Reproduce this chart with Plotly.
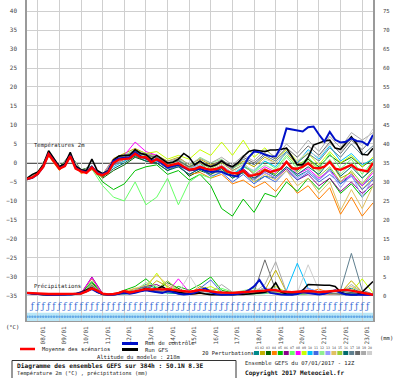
import plotly.graph_objects as go

# ---------------- DATA ----------------
hours6 = list(range(0, 385, 6))      # 07/01 12Z + 0..384h, 6-hourly
hours12 = list(range(0, 385, 12))    # 12-hourly
date_hours = [12 + 24 * k for k in range(16)]
date_labels = ["08/01", "09/01", "10/01", "11/01", "12/01", "13/01", "14/01", "15/01",
               "16/01", "17/01", "18/01", "19/01", "20/01", "21/01", "22/01", "23/01"]
temp_ticks = [-35, -30, -25, -20, -15, -10, -5, 0, 5, 10, 15, 20, 25, 30, 35, 40]
mm_ticks = [0, 5, 10, 15, 20, 25, 30, 35, 40, 45, 50, 55, 60, 65, 70, 75]

# Mean of scenarios (6h)
mean_temp = [-4.2, -3.8, -2.8, -1.0, 2.3, 0.5, -1.5, -0.8, 1.8, -1.5, -2.2, -2.6, -1.2, -2.8, -3.2, -2.5,
             0.0, 0.9, 1.0, 1.2, 2.4, 1.5, 1.5, 0.2, 1.0, 0.3, -0.8, -0.5, -0.1, -1.0, -1.8, -1.6,
             -1.0, -1.5, -1.8, -1.6, -1.0, -2.2, -2.7, -2.7, -2.0, -3.4, -3.2, -2.8, -1.8, -2.4, -2.0, -1.5,
             0.3, -1.4, -1.5, -1.0, -0.1, -1.3, -1.4, -1.0, 0.3, -1.5, -1.8, -1.2, -0.5, -1.6, -1.9, -2.2, 0.0]
mean_precip = [0.8, 0.7, 0.6, 0.6, 0.5, 0.5, 0.5, 0.5, 0.5, 0.5, 0.6, 1.2, 2.0, 1.4, 0.6, 0.4,
               0.5, 0.8, 1.3, 0.9, 1.2, 1.6, 1.8, 1.7, 1.8, 1.7, 1.8, 1.6, 1.4, 1.2, 1.1, 1.3,
               1.6, 1.4, 1.1, 1.0, 0.9, 0.8, 0.8, 0.9, 1.0, 1.1, 1.1, 1.3, 1.4, 1.6, 1.5, 1.2,
               1.1, 1.0, 1.1, 1.2, 1.3, 1.2, 1.0, 1.1, 1.2, 1.3, 1.4, 1.6, 1.4, 1.1, 0.9, 0.6, 0.3]

# Control run (6h)
ctrl_temp = [-4.3, -3.9, -2.9, -1.0, 2.5, 0.6, -1.4, -0.7, 1.9, -1.3, -2.1, -2.4, -1.0, -2.6, -3.0, -2.2,
             0.5, 1.2, 1.3, 1.5, 2.8, 1.8, 1.2, 0.5, 1.0, 0.0, -1.2, -0.8, -0.5, -1.2, -2.0, -1.8,
             -1.5, -2.0, -2.4, -2.2, -2.3, -3.0, -3.4, -3.6, -1.0, 1.5, 3.0, 2.8, 2.2, 1.8, 1.7, 4.3,
             9.1, 8.8, 8.4, 8.3, 9.4, 9.6, 7.5, 5.6, 8.2, 6.1, 5.4, 5.6, 6.5, 5.8, 5.6, 4.7, 7.4]
ctrl_precip = [0.7, 0.6, 0.4, 0.3, 0.3, 0.3, 0.3, 0.3, 0.4, 0.5, 0.8, 1.2, 1.8, 1.0, 0.5, 0.3,
               0.3, 0.5, 0.8, 0.6, 0.8, 1.2, 1.5, 1.2, 1.0, 0.8, 1.2, 1.0, 0.6, 0.4, 0.5, 0.8,
               1.5, 2.0, 1.0, 0.5, 0.3, 0.3, 0.4, 0.5, 0.8, 1.5, 2.5, 4.2, 2.0, 0.8, 0.5, 0.4,
               0.3, 0.3, 0.5, 1.0, 0.8, 0.5, 0.4, 0.6, 1.0, 1.5, 0.8, 0.4, 0.3, 0.3, 0.2, 0.2, 0.3]

# GFS run (6h)
gfs_temp = [-4.0, -3.0, -2.4, -0.5, 3.2, 1.0, -1.0, -0.2, 2.8, -0.8, -1.8, -2.0, 1.0, -2.0, -2.8, -2.0,
            0.8, 1.8, 2.0, 2.0, 3.5, 2.5, 2.2, 1.0, 2.0, 1.0, 0.0, 0.2, 1.0, 2.5, 1.5, -0.5,
            0.5, -0.5, -1.0, -0.5, 0.5, -0.5, -1.0, 0.0, 1.7, 3.0, 3.4, 3.2, 3.0, 3.4, 3.4, 3.6,
            3.9, 1.7, -0.5, -0.5, 1.5, 4.7, 5.2, 5.8, 6.0, 3.9, 3.6, 5.2, 6.9, 5.0, 2.3, 2.1, 3.9]
gfs_precip = [0.8, 0.6, 0.4, 0.3, 0.3, 0.3, 0.3, 0.4, 0.5, 0.6, 1.0, 1.5, 2.2, 1.0, 0.4, 0.3,
              0.4, 0.6, 1.0, 0.8, 1.0, 1.5, 2.0, 1.5, 1.8, 2.5, 1.5, 1.2, 1.0, 0.8, 0.5, 0.6,
              0.8, 0.5, 0.3, 0.3, 0.3, 0.4, 0.3, 0.3, 0.4, 0.5, 0.6, 0.8, 1.0, 1.5, 3.5, 1.0,
              0.5, 0.4, 0.5, 1.5, 3.0, 2.9, 2.8, 2.8, 2.8, 2.5, 1.0, 0.5, 0.3, 0.3, 1.0, 2.5, 3.8]

# 20 perturbations (12h)
pert_temp = [
    [-4.3, -2.5, 2.0, -1.2, 2.2, -2.0, -0.8, -3.5, 0.5, 1.8, 3.0, 2.0, 1.5, -0.5, 0.8, -1.0, 0.0, -2.5, -1.5, -4.0, -2.5, -5.0, -3.5, -4.0, -1.0, -3.5, -2.0, -4.5, -1.5, -5.5, -3.0, -6.0, -3.5],
    [-4.0, -3.0, 2.6, -1.8, 1.5, -2.5, -1.5, -3.0, 1.2, 2.5, 3.8, 2.5, 2.0, 0.5, 1.5, -0.5, 1.0, -0.5, 0.5, -1.5, 0.5, -1.0, 1.5, 0.0, 2.5, -0.5, 1.0, -2.0, 0.5, -4.0, -2.5, -7.0, -4.0],
    [-4.1, -2.7, 2.2, -1.0, 2.0, -1.8, -1.0, -4.0, -2.0, -0.5, 1.5, 0.5, 0.0, -2.0, -0.5, -3.5, -2.0, -3.0, -1.0, -3.5, -2.5, -4.5, -2.0, -3.0, 0.0, -2.0, 1.0, -1.0, 2.0, 0.0, 1.5, -1.0, 1.0],
    [-4.5, -3.2, 1.8, -2.0, 1.2, -2.8, -1.8, -3.8, -0.5, 0.5, 2.0, 1.0, 0.5, -1.5, -1.0, -3.0, -2.5, -4.0, -3.0, -5.5, -4.5, -6.5, -5.0, -7.5, -4.0, -8.0, -6.0, -9.5, -6.5, -13.5, -9.0, -14.0, -10.5],
    [-4.2, -2.6, 2.4, -1.3, 1.9, -2.0, -1.0, -5.0, -7.0, -5.5, -2.0, -1.0, -0.5, -3.0, -2.0, -4.5, -3.0, -6.0, -12.0, -14.0, -9.5, -13.0, -8.0, -9.0, -5.0, -7.5, -4.0, -7.0, -4.0, -8.0, -5.5, -9.0, -6.0],
    [-4.0, -2.9, 2.5, -1.6, 1.7, -2.4, -1.4, -3.3, 0.0, 1.0, 2.8, 1.5, 1.2, -0.8, 0.0, -2.0, -1.0, -2.0, -0.5, -3.0, -1.5, -4.0, -2.5, -4.0, -1.5, -4.5, -3.0, -6.0, -4.0, -7.5, -5.0, -8.0, -5.5],
    [-4.4, -2.8, 2.0, -1.6, 1.6, -2.2, -1.6, -6.0, -9.0, -10.0, -5.0, -11.0, -9.0, -4.0, -11.0, -5.0, -3.0, -4.0, -2.0, -3.0, -1.0, -2.5, 0.5, -1.5, 2.0, -1.0, 1.5, -1.5, 2.5, -1.5, 1.0, -3.0, 0.5],
    [-4.1, -2.8, 2.3, -1.4, 1.9, -2.1, -1.1, -3.0, 1.0, 2.0, 5.5, 3.0, 2.0, 0.0, 1.0, -1.5, 0.0, -1.0, 0.5, -2.0, -0.5, -3.0, -1.0, -2.5, 0.5, -3.0, -1.5, -4.0, -2.0, -5.0, -3.0, -6.0, -2.5],
    [-4.2, -2.7, 2.2, -1.5, 1.8, -2.3, -1.2, -3.2, 0.3, 1.5, 3.5, 2.5, 3.0, 1.0, 2.0, 1.0, 3.5, 2.0, 5.5, 2.0, 6.0, 1.5, 4.0, 1.0, 3.5, 0.5, 2.5, -0.5, 3.0, 0.0, 2.0, -1.0, 1.5],
    [-4.3, -2.9, 2.1, -1.7, 1.6, -2.2, -1.3, -3.4, -1.0, 0.5, 2.0, 1.0, 0.5, -1.0, 0.0, -1.5, -0.5, -2.5, -1.0, -3.0, -1.0, -2.0, 0.5, -1.0, 3.0, 0.0, 3.5, 1.0, 4.5, 0.5, 2.5, -0.5, 1.0],
    [-4.2, -2.8, 2.4, -1.5, 1.8, -2.2, -1.1, -3.5, -0.5, 1.0, 2.5, 1.5, 0.5, -1.5, -1.0, -3.0, -1.5, -3.5, -2.5, -5.0, -3.0, -5.5, -3.5, -5.0, -2.0, -4.5, -2.5, -5.0, -3.0, -5.5, -3.5, -7.0, -4.5],
    [-4.1, -2.6, 2.5, -1.3, 2.0, -2.0, -1.0, -3.1, 0.8, 2.0, 3.5, 2.0, 1.5, 0.0, 1.0, -1.0, 1.5, 0.0, 1.0, -1.5, 0.0, -2.5, -0.5, -2.0, 1.5, -1.5, 0.5, -2.5, 1.0, -3.0, 0.0, -4.0, -1.0],
    [-4.3, -2.9, 2.2, -1.6, 1.7, -2.3, -1.3, -3.3, 0.2, 1.2, 2.6, 1.6, 1.0, -0.8, 0.2, -1.8, -0.8, -2.0, -1.0, -3.0, -2.0, -4.5, -2.5, -4.0, -1.0, -4.0, -2.0, -4.5, -2.0, -6.5, -3.0, -9.0, -4.0],
    [-4.2, -2.8, 2.3, -1.5, 1.8, -2.2, -1.2, -3.2, 0.0, 1.0, 2.4, 1.5, 1.0, -0.8, -0.1, -1.8, -1.0, -3.0, -2.0, -4.0, -2.5, -5.0, -3.0, -4.5, -2.0, -6.0, -4.0, -8.0, -5.0, -12.5, -7.0, -12.0, -6.0],
    [-4.1, -2.7, 2.4, -1.4, 1.9, -2.1, -1.1, -3.3, 0.4, 1.4, 2.8, 1.8, 1.2, -0.5, 0.5, -1.2, 0.0, -1.5, 0.0, -2.0, -0.5, -3.0, -1.5, -3.0, 0.5, -2.5, 0.0, -3.5, -1.0, -5.0, -2.0, -5.5, -2.0],
    [-4.3, -2.8, 2.2, -1.5, 1.8, -2.3, -1.2, -3.6, -1.5, 0.0, 1.8, 0.5, 0.0, -2.0, -1.0, -3.0, -1.5, -3.0, -1.5, -4.0, -2.5, -4.0, -2.0, -3.5, -1.0, -3.0, -1.0, -3.0, 0.5, -3.5, -1.0, -4.0, -1.5],
    [-4.2, -2.7, 2.3, -1.5, 1.8, -2.2, -1.2, -3.2, 0.5, 1.5, 3.0, 2.0, 1.5, 0.0, 0.5, -1.0, 0.5, -1.0, 0.5, -1.5, 1.0, -0.5, 2.0, 0.5, 3.0, 0.0, 2.5, 0.5, 4.0, 1.5, 5.0, 2.0, 4.5],
    [-4.2, -2.8, 2.4, -1.4, 1.9, -2.1, -1.1, -3.1, 0.6, 1.6, 3.2, 2.2, 1.4, -0.2, 0.6, -1.0, 0.4, -0.8, 0.8, -1.0, 1.5, 0.0, 2.5, 1.0, 4.0, 1.5, 4.5, 2.0, 5.5, 2.5, 6.0, 3.5, 6.5],
    [-4.1, -2.7, 2.4, -1.3, 2.0, -2.0, -1.0, -3.0, 0.8, 1.8, 3.4, 2.4, 1.8, 0.4, 1.2, -0.4, 1.2, 0.0, 1.5, -0.5, 2.0, 0.5, 3.5, 1.5, 5.0, 2.5, 6.0, 3.0, 7.0, 4.0, 8.0, 6.0, 8.0],
    [-4.2, -2.8, 2.3, -1.5, 1.8, -2.2, -1.2, -3.2, 0.2, 1.2, 2.6, 1.6, 1.0, -0.6, 0.2, -1.6, -0.6, -2.0, -0.5, -2.5, -0.5, -2.0, 1.0, 0.0, 2.5, 0.5, 3.0, 1.5, 5.0, 3.0, 6.5, 4.5, 9.0],
]
pert_precip = [
    [0.8, 0.5, 0.3, 0.3, 0.4, 0.6, 2.5, 0.5, 0.4, 1.0, 1.5, 3.0, 2.0, 1.5, 1.0, 0.8, 1.5, 1.0, 0.5, 0.4, 0.8, 1.2, 2.0, 1.0, 0.5, 0.8, 1.5, 1.0, 0.5, 1.5, 2.0, 0.8, 0.3],
    [0.7, 0.4, 0.3, 0.3, 0.3, 0.8, 4.5, 0.6, 0.3, 0.8, 2.0, 1.5, 4.0, 2.5, 1.0, 0.6, 2.5, 1.5, 0.8, 0.5, 0.6, 0.8, 1.5, 6.8, 1.0, 0.5, 0.8, 1.2, 0.6, 0.8, 4.0, 1.0, 0.5],
    [0.8, 0.5, 0.4, 0.3, 0.3, 0.5, 3.5, 0.4, 0.3, 0.6, 1.2, 2.5, 1.5, 3.5, 2.0, 0.5, 1.0, 0.8, 0.5, 0.3, 0.5, 0.6, 0.8, 1.0, 0.5, 0.4, 0.6, 0.8, 1.2, 0.6, 0.4, 0.5, 0.3],
    [0.7, 0.4, 0.3, 0.2, 0.3, 0.5, 2.0, 0.3, 0.3, 0.5, 1.0, 2.0, 1.0, 1.5, 0.8, 0.4, 0.6, 0.5, 0.8, 0.5, 0.4, 0.6, 1.0, 0.8, 0.4, 0.6, 1.0, 1.8, 0.8, 0.5, 0.6, 0.4, 0.2],
    [0.8, 0.5, 0.3, 0.3, 0.4, 0.7, 3.8, 0.5, 0.4, 1.5, 2.5, 4.5, 2.0, 1.0, 2.5, 1.5, 3.0, 5.0, 1.5, 0.8, 0.5, 0.6, 1.0, 1.5, 0.6, 0.5, 0.8, 0.6, 0.4, 1.0, 0.8, 0.5, 0.3],
    [0.7, 0.5, 0.3, 0.3, 0.3, 0.6, 5.0, 0.6, 0.4, 0.8, 1.5, 2.5, 3.0, 1.5, 1.0, 0.6, 0.8, 0.6, 0.4, 0.3, 0.5, 0.8, 1.2, 0.6, 0.4, 0.5, 0.6, 0.5, 0.8, 0.4, 0.5, 0.3, 0.2],
    [0.8, 0.6, 0.4, 0.3, 0.4, 0.6, 3.0, 0.5, 0.3, 0.5, 1.0, 1.5, 1.0, 0.8, 0.6, 0.5, 1.0, 1.5, 2.0, 1.0, 0.8, 0.5, 0.6, 1.0, 0.5, 0.4, 0.6, 0.8, 0.5, 1.0, 0.6, 0.4, 0.3],
    [0.7, 0.5, 0.3, 0.3, 0.3, 0.7, 4.8, 0.4, 0.3, 0.6, 1.2, 2.0, 1.5, 1.0, 4.5, 1.0, 0.8, 0.6, 0.5, 0.4, 0.6, 0.8, 1.0, 0.8, 0.5, 0.6, 0.8, 0.5, 0.4, 0.6, 0.5, 0.4, 0.2],
    [0.8, 0.5, 0.4, 0.3, 0.4, 0.6, 2.8, 0.5, 0.4, 0.8, 1.5, 2.0, 6.0, 2.0, 1.0, 0.8, 1.5, 2.5, 1.0, 0.6, 0.5, 0.8, 1.5, 2.5, 1.0, 0.6, 1.0, 0.8, 0.5, 0.6, 1.0, 4.5, 0.8],
    [0.7, 0.5, 0.3, 0.3, 0.3, 0.5, 2.2, 0.4, 0.3, 0.5, 1.0, 1.5, 1.2, 0.8, 0.6, 0.5, 1.2, 0.8, 0.5, 0.6, 1.0, 1.5, 1.0, 0.8, 1.5, 8.6, 2.0, 1.0, 0.6, 0.8, 0.5, 0.4, 0.3],
    [0.8, 0.5, 0.3, 0.3, 0.4, 0.6, 2.6, 0.5, 0.3, 0.7, 1.2, 2.2, 1.5, 1.0, 0.8, 0.6, 2.0, 4.2, 1.0, 0.5, 0.4, 0.6, 0.8, 1.0, 0.6, 0.5, 0.8, 1.0, 0.6, 0.5, 0.4, 0.3, 0.2],
    [0.7, 0.4, 0.3, 0.3, 0.3, 0.6, 3.2, 0.4, 0.3, 0.6, 1.4, 3.5, 2.5, 1.5, 1.2, 0.8, 1.0, 0.8, 0.6, 0.8, 1.5, 2.0, 1.2, 0.8, 0.6, 0.5, 0.6, 0.8, 1.0, 1.5, 1.0, 0.6, 0.3],
    [0.8, 0.5, 0.3, 0.3, 0.4, 0.6, 2.4, 0.5, 0.3, 0.6, 1.0, 1.8, 1.2, 1.0, 0.8, 0.6, 0.8, 0.6, 0.5, 0.5, 0.8, 1.0, 1.4, 1.0, 0.8, 1.2, 2.0, 1.0, 0.6, 1.5, 1.0, 0.5, 0.3],
    [0.7, 0.5, 0.3, 0.3, 0.3, 0.6, 3.0, 0.6, 0.4, 1.2, 2.0, 2.8, 5.5, 3.0, 1.5, 1.0, 1.8, 1.2, 0.8, 0.6, 0.8, 1.5, 1.0, 0.8, 1.0, 0.6, 0.8, 0.6, 0.5, 0.8, 2.5, 1.0, 0.5],
    [0.8, 0.5, 0.4, 0.3, 0.3, 0.5, 2.5, 0.5, 0.3, 0.8, 1.5, 2.0, 1.8, 4.0, 1.5, 1.0, 1.2, 0.8, 0.6, 0.5, 0.6, 0.8, 1.2, 0.8, 0.6, 0.8, 1.0, 0.8, 0.6, 0.5, 0.8, 0.5, 0.3],
    [0.7, 0.5, 0.3, 0.3, 0.3, 0.6, 2.2, 0.4, 0.3, 0.6, 1.0, 1.5, 1.0, 0.8, 0.6, 0.5, 0.8, 0.6, 0.4, 0.4, 0.6, 0.8, 1.0, 1.5, 0.8, 0.6, 1.0, 0.8, 0.6, 1.2, 0.8, 0.5, 0.3],
    [0.8, 0.5, 0.3, 0.3, 0.4, 0.6, 2.8, 0.5, 0.4, 0.8, 1.5, 2.5, 1.5, 1.0, 1.0, 0.8, 1.2, 1.0, 0.8, 0.6, 0.8, 1.2, 2.0, 1.5, 1.0, 0.8, 1.2, 1.0, 0.8, 1.5, 11.2, 1.5, 0.5],
    [0.7, 0.5, 0.3, 0.3, 0.3, 0.6, 2.0, 0.4, 0.3, 0.6, 1.2, 1.8, 1.2, 1.0, 0.8, 0.6, 1.0, 0.8, 0.6, 0.5, 0.8, 1.0, 9.5, 1.5, 0.8, 0.6, 0.8, 1.0, 0.8, 0.6, 0.8, 0.6, 0.3],
    [0.8, 0.5, 0.4, 0.3, 0.4, 0.6, 2.4, 0.5, 0.3, 0.7, 1.2, 2.0, 1.5, 1.2, 1.0, 0.8, 1.5, 1.0, 3.0, 1.0, 0.8, 1.0, 3.0, 9.0, 1.0, 0.8, 1.2, 1.0, 0.8, 1.0, 3.0, 1.0, 0.5],
    [0.7, 0.5, 0.3, 0.3, 0.3, 0.6, 2.0, 0.5, 0.3, 0.6, 1.5, 2.0, 1.8, 1.0, 0.8, 5.5, 1.0, 0.8, 0.6, 0.5, 0.8, 1.2, 2.0, 2.0, 1.0, 0.8, 8.2, 1.5, 1.0, 0.8, 1.2, 0.8, 0.4],
]
pert_colors = ["#008b8b", "#c0b000", "#006400", "#ff7f00", "#00c000", "#8b008b", "#66ff66", "#ff00ff",
               "#c8ff00", "#00bfff", "#4169e1", "#90ee90", "#9999ff", "#e0c060", "#9acd32", "#006b6b",
               "#5f7f8f", "#696969", "#a9a9a9", "#cfcfcf"]
pert_names = ["%02d" % (k + 1) for k in range(20)]

# ---------------- FIGURE ----------------
MONO = "DejaVu Sans Mono"
W, H = 400, 378
L, R, T, B = 27, 27, 0, 57
YMIN, YMAX = -41.6, 42.9
OFF = 35  # mm = degC + 35


def px(xp):
    return (xp - L) / (W - L - R)


def py(yp):
    return (H - B - yp) / (H - B - T)


fig = go.Figure()

for k in range(20):
    fig.add_trace(go.Scatter(x=hours12, y=pert_temp[k], mode="lines",
                             line=dict(color=pert_colors[k], width=1), yaxis="y"))
for k in range(20):
    fig.add_trace(go.Scatter(x=hours12, y=pert_precip[k], mode="lines",
                             line=dict(color=pert_colors[k], width=1), yaxis="y2"))

fig.add_trace(go.Scatter(x=hours6, y=gfs_temp, mode="lines", line=dict(color="#000000", width=1.6), yaxis="y"))
fig.add_trace(go.Scatter(x=hours6, y=ctrl_temp, mode="lines", line=dict(color="#0010c8", width=2), yaxis="y"))
fig.add_trace(go.Scatter(x=hours6, y=mean_temp, mode="lines", line=dict(color="#ff0000", width=2.4), yaxis="y"))
fig.add_trace(go.Scatter(x=hours6, y=gfs_precip, mode="lines", line=dict(color="#000000", width=1.6), yaxis="y2"))
fig.add_trace(go.Scatter(x=hours6, y=ctrl_precip, mode="lines", line=dict(color="#0010c8", width=2), yaxis="y2"))
fig.add_trace(go.Scatter(x=hours6, y=mean_precip, mode="lines", line=dict(color="#ff0000", width=2.4), yaxis="y2"))

# weather symbol row
sym_x = hours6[1:-1]
band_x = list(range(0, 385, 3))
fig.add_trace(go.Scatter(x=band_x, y=[-40.5] * len(band_x), mode="markers",
                         marker=dict(symbol="circle", size=2.5, color="#62a8e6"), yaxis="y"))
fig.add_trace(go.Scatter(x=sym_x, y=[-37.8] * len(sym_x), mode="text", text=["ƒ"] * len(sym_x),
                         textfont=dict(family="DejaVu Serif", size=9, color="#3d6fd6"), yaxis="y"))

shapes = [
    dict(type="rect", xref="paper", yref="y", x0=0, x1=1, y0=-39.4, y1=-41.6,
         fillcolor="#b8e6f7", line=dict(width=0), layer="below"),
    dict(type="line", xref="paper", yref="y", x0=0, x1=1, y0=0, y1=0,
         line=dict(color="#5a5a5a", width=2), layer="below"),
    # legend lines
    dict(type="line", xref="paper", yref="paper", x0=px(20), x1=px(35), y0=py(349), y1=py(349),
         line=dict(color="#ff0000", width=2.5)),
    dict(type="line", xref="paper", yref="paper", x0=px(122), x1=px(138), y0=py(343.5), y1=py(343.5),
         line=dict(color="#0010c8", width=3)),
    dict(type="line", xref="paper", yref="paper", x0=px(122), x1=px(138), y0=py(349.5), y1=py(349.5),
         line=dict(color="#000000", width=3)),
    # info box
    dict(type="rect", xref="paper", yref="paper", x0=px(12), x1=px(236), y0=py(360.5), y1=py(382),
         line=dict(color="#333333", width=1), fillcolor="rgba(0,0,0,0)"),
]
sw0, sw_step = 254, 5.95
for k in range(20):
    shapes.append(dict(type="rect", xref="paper", yref="paper",
                       x0=px(sw0 + k * sw_step), x1=px(sw0 + k * sw_step + 5),
                       y0=py(351), y1=py(355), fillcolor=pert_colors[k], line=dict(width=0)))

ann = []


def txt(x, y, s, size=5.5, anchor="left", bold=False, color="#222222"):
    ann.append(dict(xref="paper", yref="paper", x=px(x), y=py(y), text=("<b>%s</b>" % s) if bold else s,
                    showarrow=False, xanchor=anchor, yanchor="middle",
                    font=dict(family=MONO, size=size, color=color)))


ann.append(dict(xref="x", yref="y", x=5, y=4.5, text="Températures 2m", showarrow=False,
                xanchor="left", yanchor="middle", font=dict(family=MONO, size=5.6, color="#222")))
ann.append(dict(xref="x", yref="y", x=5, y=-32.4, text="Précipitations", showarrow=False,
                xanchor="left", yanchor="middle", font=dict(family=MONO, size=5.6, color="#222")))
txt(12, 327, "(°C)", 5.5, "center")
txt(386, 338, "(mm)", 5.5, "center")
txt(40, 349, "Moyenne des scénarios", 5.4)
txt(143, 343, "Run de contrôle", 5.5)
txt(143, 349.5, "Run GFS", 5.5)
txt(138, 357, "Altitude du modele : 218m", 5.5, "center")
txt(200, 352.5, "20 Perturbations", 5.4)
for k in range(20):
    txt(sw0 + k * sw_step + 2.5, 347.5, pert_names[k], 3.3, "center", color="#444")
txt(15, 366, "Diagramme des ensembles GEFS sur 384h : 50.1N 8.3E", 6.2, bold=True, color="#111")
txt(15, 373, "Température 2m (°C) , précipitations (mm)", 5.3)
txt(243, 362.5, "Ensemble GEFS du 07/01/2017 - 12Z", 5.5)
txt(243, 372.5, "Copyright 2017 Meteociel.fr", 6.1, bold=True, color="#111")

fig.update_layout(
    width=W, height=H, margin=dict(l=L, r=R, t=T, b=B, pad=0),
    paper_bgcolor="white", plot_bgcolor="white", showlegend=False,
    xaxis=dict(range=[0, 384], tickmode="array", tickvals=date_hours, ticktext=date_labels,
               tickangle=-90, showgrid=True, gridcolor="#cfcfcf", gridwidth=1,
               showline=True, linecolor="#9a9a9a", linewidth=1, mirror=True, ticks="",
               zeroline=False, ticklabelshift=5, ticklabelstandoff=2,
               tickfont=dict(family=MONO, size=6, color="#444")),
    yaxis=dict(range=[YMIN, YMAX], tickmode="array", tickvals=temp_ticks,
               showgrid=True, gridcolor="#cfcfcf", gridwidth=1, zeroline=False,
               showline=True, linecolor="#9a9a9a", linewidth=1.5, mirror=True, ticks="",
               ticklabelstandoff=7, tickfont=dict(family=MONO, size=6, color="#444")),
    yaxis2=dict(range=[YMIN + OFF, YMAX + OFF], overlaying="y", side="right", tickmode="array",
                tickvals=mm_ticks, showgrid=False, zeroline=False, showline=False, ticks="",
                ticklabelstandoff=9, tickfont=dict(family=MONO, size=5.6, color="#444")),
    shapes=shapes, annotations=ann,
)

fig.write_html("out.html", config={"displayModeBar": False},
               post_script="document.body.style.margin='0px';document.body.style.overflow='hidden';")
